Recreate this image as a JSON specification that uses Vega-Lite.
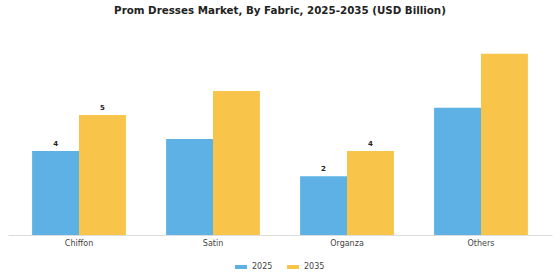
{
  "$schema": "https://vega.github.io/schema/vega-lite/v6.json",
  "width": 544,
  "height": 205,
  "autosize": "none",
  "padding": {"left": 8, "right": 8, "top": 30, "bottom": 45},
  "background": "white",
  "config": {
    "view": {"stroke": null},
    "legend": {"layout": {"bottom": {"anchor": "middle"}}}
  },
  "title": {
    "text": "Prom Dresses Market, By Fabric, 2025-2035 (USD Billion)",
    "font": "DejaVu Sans",
    "fontSize": 10.3,
    "fontWeight": "bold",
    "color": "#222222",
    "anchor": "middle",
    "offset": 14
  },
  "data": {
    "values": [
      {"fabric": "Chiffon", "year": "2025", "value": 3.5},
      {"fabric": "Chiffon", "year": "2035", "value": 5.0},
      {"fabric": "Satin", "year": "2025", "value": 4.0},
      {"fabric": "Satin", "year": "2035", "value": 6.0},
      {"fabric": "Organza", "year": "2025", "value": 2.45},
      {"fabric": "Organza", "year": "2035", "value": 3.5},
      {"fabric": "Others", "year": "2025", "value": 5.3},
      {"fabric": "Others", "year": "2035", "value": 7.55}
    ]
  },
  "encoding": {
    "x": {
      "field": "fabric",
      "type": "nominal",
      "sort": ["Chiffon", "Satin", "Organza", "Others"],
      "scale": {"paddingInner": 0.3, "paddingOuter": 0.18},
      "axis": {
        "title": null,
        "labelAngle": 0,
        "labelFont": "DejaVu Sans",
        "labelFontSize": 8,
        "labelColor": "#444444",
        "domainColor": "#dddddd",
        "ticks": false,
        "labelPadding": 4
      }
    },
    "xOffset": {"field": "year", "type": "nominal"},
    "y": {
      "field": "value",
      "type": "quantitative",
      "scale": {"domain": [0, 8.54], "nice": false},
      "axis": null
    }
  },
  "layer": [
    {
      "mark": {"type": "bar"},
      "encoding": {
        "color": {
          "field": "year",
          "type": "nominal",
          "scale": {"domain": ["2025", "2035"], "range": ["#5DB1E4", "#F8C44A"]},
          "legend": {
            "title": null,
            "orient": "bottom",
            "direction": "horizontal",
            "symbolType": "M-1,-0.33L1,-0.33L1,0.33L-1,0.33Z",
            "symbolSize": 144,
            "symbolStrokeWidth": 0,
            "labelFont": "DejaVu Sans",
            "labelFontSize": 8,
            "labelColor": "#444444",
            "labelOffset": 5,
            "columnPadding": 14,
            "offset": 14
          }
        }
      }
    },
    {
      "transform": [{"filter": {"field": "fabric", "oneOf": ["Chiffon", "Organza"]}}],
      "mark": {"type": "text", "dy": -7, "font": "DejaVu Sans", "fontSize": 7, "fontWeight": "bold", "color": "#222222"},
      "encoding": {
        "text": {"field": "value", "type": "quantitative", "format": ".0f"}
      }
    }
  ]
}
